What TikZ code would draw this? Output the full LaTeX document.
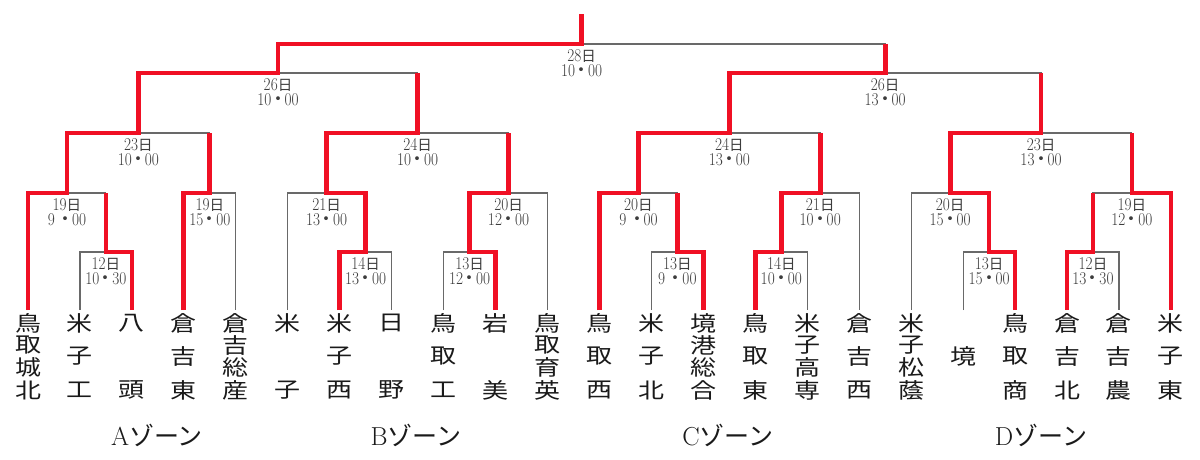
\documentclass[tikz,border=0pt]{standalone}
\usepackage{fontspec}
\newfontfamily\cjk{Noto Sans CJK JP}
\usetikzlibrary{calc}
\definecolor{redc}{RGB}{240,16,36}
\definecolor{grayc}{RGB}{105,105,105}
\definecolor{datec}{RGB}{60,60,60}
\definecolor{textc}{RGB}{26,26,26}
\newcommand\dnum[1]{\scalebox{0.85}[1]{#1}}
\newcommand\tmdot{\makebox[13pt]{\cjk ・}}
\newcommand\dday{{\cjk\fontsize{14.5}{14.5}\selectfont 日}}
% name, left child, right child, level, day, hour, minute
\newcommand\mkmatch[7]{%
  \coordinate (#1h) at ($(#2)!0.5!(#3)$);
  \coordinate (#1) at (#1h |- #4);
  \draw[thinline] (#2) |- (#1) -| (#3);
  \node[datetxt] (#1d) at ($(#1)+(0,19)$) {\dnum{#5}\dday\\\dnum{#6}\tmdot\dnum{#7}};
}
% leaf coordinate, number of characters, characters
\newcommand\leafname[3]{%
  \foreach \ch [count=\k] in {#3}{%
    \ifnum#2=1 \def\yy{356.5}\else\pgfmathsetmacro\yy{323+(\k-1)*67/(#2-1)}\fi
    \node[leaftxt] (#1c\k) at ($(#1)+(0,\yy-310)$) {\scalebox{1}[0.82]{\ch}};
  }}
\begin{document}
\begin{tikzpicture}[x=1pt,y=-1pt,
  thinline/.style={draw=grayc,line width=1.1pt},
  redline/.style={draw=redc,line width=4.8pt,line join=miter},
  datetxt/.style={inner sep=0pt,text=datec,align=center,font=\fontsize{18}{14.5}\selectfont},
  leaftxt/.style={inner sep=0pt,text=textc,font=\cjk\fontsize{26}{26}\selectfont},
  zonetxt/.style={inner sep=0pt,text=textc,font=\fontsize{26}{26}\selectfont}]
\path[fill=white,use as bounding box] (0,0) rectangle (1200,460);
\coordinate (lv1) at (0,252);
\coordinate (lv2) at (0,193);
\coordinate (lv3) at (0,133);
\coordinate (lv4) at (0,73);
\coordinate (lv5) at (0,44);
\coordinate (lvtop) at (0,14);
\foreach \i in {1,...,23} \coordinate (L\i) at ({28+51.95*(\i-1)},310);

% A zone
\mkmatch{m12A}{L2}{L3}{lv1}{12}{10}{30}
\mkmatch{m19Aa}{L1}{m12A}{lv2}{19}{9\hspace{5pt}}{00}
\mkmatch{m19Ab}{L4}{L5}{lv2}{19}{15}{00}
\mkmatch{m23A}{m19Aa}{m19Ab}{lv3}{23}{10}{00}
% B zone
\mkmatch{m14B}{L7}{L8}{lv1}{14}{13}{00}
\mkmatch{m21B}{L6}{m14B}{lv2}{21}{13}{00}
\mkmatch{m13B}{L9}{L10}{lv1}{13}{12}{00}
\mkmatch{m20B}{m13B}{L11}{lv2}{20}{12}{00}
\mkmatch{m24B}{m21B}{m20B}{lv3}{24}{10}{00}
\mkmatch{m26L}{m23A}{m24B}{lv4}{26}{10}{00}
% C zone
\mkmatch{m13C}{L13}{L14}{lv1}{13}{9\hspace{5pt}}{00}
\mkmatch{m20C}{L12}{m13C}{lv2}{20}{9\hspace{5pt}}{00}
\mkmatch{m14C}{L15}{L16}{lv1}{14}{10}{00}
\mkmatch{m21C}{m14C}{L17}{lv2}{21}{10}{00}
\mkmatch{m24C}{m20C}{m21C}{lv3}{24}{13}{00}
% D zone
\mkmatch{m13D}{L19}{L20}{lv1}{13}{15}{00}
\mkmatch{m20D}{L18}{m13D}{lv2}{20}{15}{00}
\mkmatch{m12D}{L21}{L22}{lv1}{12}{13}{30}
\mkmatch{m19D}{m12D}{L23}{lv2}{19}{12}{00}
\mkmatch{m23D}{m20D}{m19D}{lv3}{23}{13}{00}
\mkmatch{m26R}{m24C}{m23D}{lv4}{26}{13}{00}
% final
\mkmatch{m28}{m26L}{m26R}{lv5}{28}{10}{00}
\coordinate (top) at (m28 |- lvtop);

% winners' paths
\draw[redline] (L1) |- (m19Aa) |- (m23A) |- (m26L) |- (m28) -- (top);
\draw[redline] (L3) |- (m12A) -- (m12A |- m19Aa);
\draw[redline] (L4) |- (m19Ab) -- (m19Ab |- m23A);
\draw[redline] (L7) |- (m14B) |- (m21B) |- (m24B) -- (m24B |- m26L);
\draw[redline] (L10) |- (m13B) |- (m20B) -- (m20B |- m24B);
\draw[redline] (L12) |- (m20C) |- (m24C) |- (m26R) -- (m26R |- m28);
\draw[redline] (L14) |- (m13C) -- (m13C |- m20C);
\draw[redline] (L15) |- (m14C) |- (m21C) -- (m21C |- m24C);
\draw[redline] (L20) |- (m13D) |- (m20D) |- (m23D) -- (m23D |- m26R);
\draw[redline] (L21) |- (m12D) -- (m12D |- m19D);
\draw[redline] (L23) |- (m19D) -- (m19D |- m23D);

% schools
\leafname{L1}{4}{鳥,取,城,北}
\leafname{L2}{3}{米,子,工}
\leafname{L3}{2}{八,頭}
\leafname{L4}{3}{倉,吉,東}
\leafname{L5}{4}{倉,吉,総,産}
\leafname{L6}{2}{米,子}
\leafname{L7}{3}{米,子,西}
\leafname{L8}{2}{日,野}
\leafname{L9}{3}{鳥,取,工}
\leafname{L10}{2}{岩,美}
\leafname{L11}{4}{鳥,取,育,英}
\leafname{L12}{3}{鳥,取,西}
\leafname{L13}{3}{米,子,北}
\leafname{L14}{4}{境,港,総,合}
\leafname{L15}{3}{鳥,取,東}
\leafname{L16}{4}{米,子,高,専}
\leafname{L17}{3}{倉,吉,西}
\leafname{L18}{4}{米,子,松,蔭}
\leafname{L19}{1}{境}
\leafname{L20}{3}{鳥,取,商}
\leafname{L21}{3}{倉,吉,北}
\leafname{L22}{3}{倉,吉,農}
\leafname{L23}{3}{米,子,東}

% zones
\node[zonetxt] (zA) at (157,435) {A{\cjk\fontsize{25}{25}\selectfont ゾーン}};
\node[zonetxt] (zB) at (416,435) {B{\cjk\fontsize{25}{25}\selectfont ゾーン}};
\node[zonetxt] (zC) at (728,435) {C{\cjk\fontsize{25}{25}\selectfont ゾーン}};
\node[zonetxt] (zD) at (1041,435) {D{\cjk\fontsize{25}{25}\selectfont ゾーン}};
\end{tikzpicture}
\end{document}
